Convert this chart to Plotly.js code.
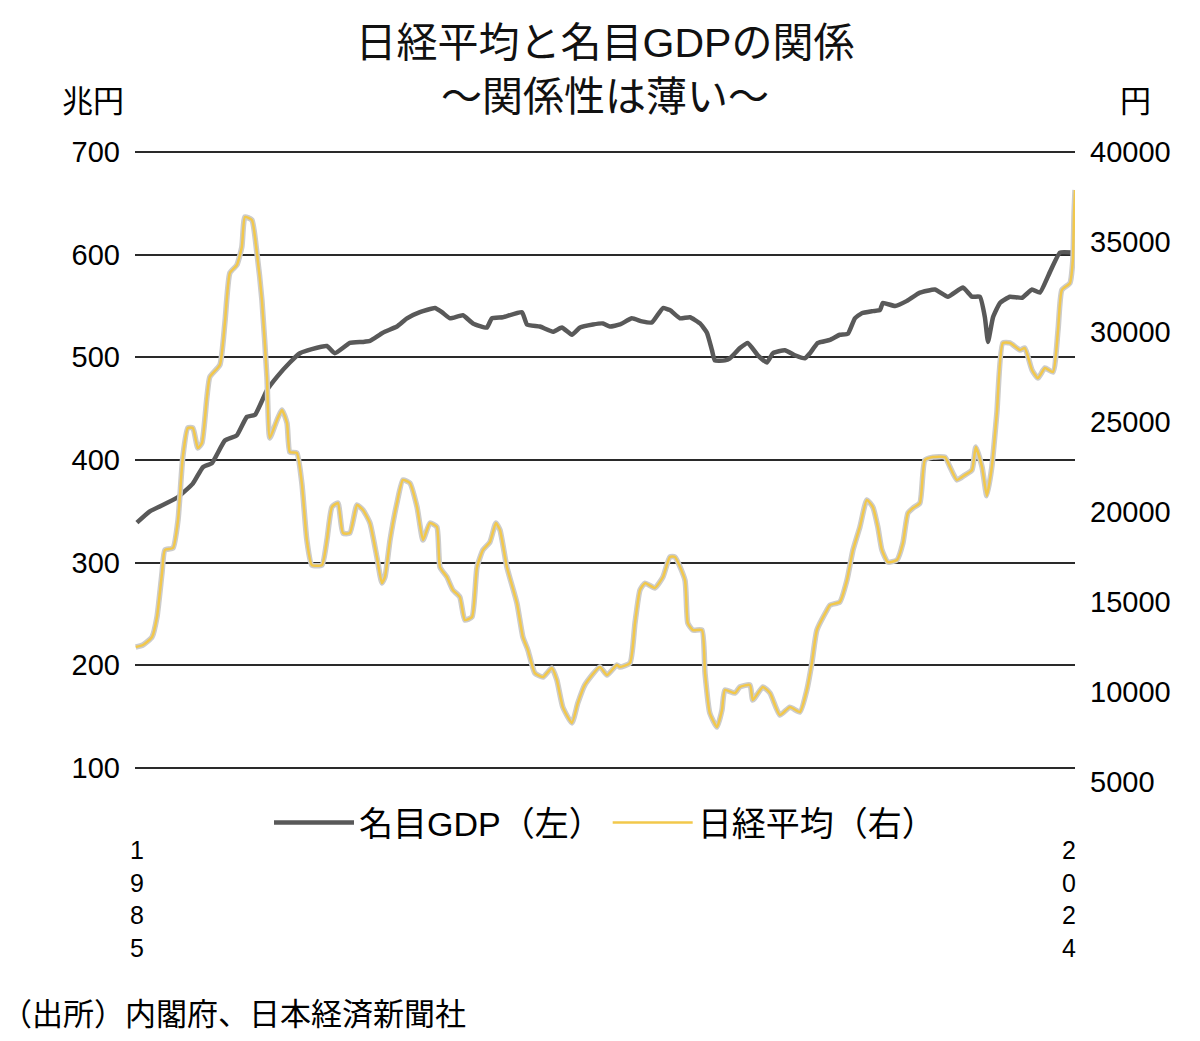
<!DOCTYPE html>
<html>
<head>
<meta charset="utf-8">
<script src="https://cdn.plot.ly/plotly-3.0.1.min.js"></script>
<style>
  html, body { margin: 0; padding: 0; background: #fff; }
  #plot { width: 1200px; height: 1041px; }
</style>
</head>
<body>
<div id="plot"></div>
<script>
// 名目GDP（兆円）
var gdpYears = [1985.00, 1985.54, 1986.67, 1987.34, 1987.76, 1988.14, 1988.68, 1989.18, 1989.60, 1989.94,
  1990.44, 1990.86, 1991.40, 1991.82, 1992.32, 1992.95, 1993.28, 1993.91, 1994.46, 1994.75,
  1995.29, 1995.88, 1996.30, 1996.84, 1997.47, 1997.76, 1998.10, 1998.64, 1999.06, 1999.64,
  1999.85, 2000.31, 2001.11, 2001.32, 2001.86, 2002.41, 2002.78, 2003.20, 2003.54, 2004.08,
  2004.50, 2004.79, 2005.21, 2005.71, 2006.13, 2006.55, 2007.01, 2007.30, 2007.72, 2008.14,
  2008.56, 2008.85, 2009.06, 2009.18, 2009.60, 2009.81, 2010.23, 2010.56, 2010.98, 2011.36,
  2011.61, 2012.11, 2012.53, 2012.95, 2013.16, 2013.49, 2014.00, 2014.41, 2014.75, 2015.04,
  2015.33, 2015.79, 2016.09, 2016.21, 2016.72, 2017.22, 2017.76, 2018.39, 2018.93, 2019.56,
  2019.94, 2020.27, 2020.48, 2020.61, 2020.82, 2021.11, 2021.53, 2022.03, 2022.45, 2022.78,
  2023.20, 2023.62, 2024.12];
var gdpValues = [339, 350, 363, 377, 393, 397, 419, 424, 442, 444,
  468, 481, 495, 504, 508, 511, 504, 514, 515, 516,
  524, 530, 538, 544, 548, 544, 538, 541, 533, 529,
  538, 539, 544, 532, 530, 525, 529, 522, 529, 532,
  533, 530, 532, 538, 535, 534, 548, 546, 538, 539,
  533, 524, 507, 497, 497, 499, 509, 514, 502, 495,
  504, 507, 502, 499, 504, 514, 517, 522, 523, 538,
  543, 545, 546, 553, 550, 555, 563, 566, 559, 568,
  559, 559, 539, 515, 539, 553, 559, 558, 566, 563,
  583, 602, 602];

// 日経平均（円）
var nikkeiYears = [1984.95, 1985.25, 1985.63, 1985.84, 1986.05, 1986.17, 1986.51, 1986.72, 1986.92, 1987.13,
  1987.34, 1987.55, 1987.72, 1987.93, 1988.05, 1988.47, 1988.68, 1988.89, 1989.18, 1989.39,
  1989.52, 1989.81, 1990.02, 1990.23, 1990.44, 1990.56, 1990.86, 1991.07, 1991.28, 1991.40,
  1991.69, 1991.90, 1992.11, 1992.32, 1992.74, 1992.95, 1993.16, 1993.41, 1993.62, 1993.91,
  1994.21, 1994.46, 1994.75, 1995.04, 1995.25, 1995.38, 1995.59, 1995.88, 1996.13, 1996.42,
  1996.72, 1996.97, 1997.26, 1997.55, 1997.68, 1997.97, 1998.22, 1998.51, 1998.72, 1999.02,
  1999.23, 1999.48, 1999.77, 2000.02, 2000.19, 2000.48, 2000.90, 2001.15, 2001.36, 2001.65,
  2001.99, 2002.36, 2002.57, 2002.82, 2003.20, 2003.45, 2003.74, 2004.37, 2004.67, 2005.08,
  2005.21, 2005.63, 2005.84, 2006.05, 2006.26, 2006.67, 2007.01, 2007.30, 2007.51, 2007.93,
  2008.05, 2008.26, 2008.64, 2008.77, 2008.97, 2009.27, 2009.48, 2009.60, 2010.02, 2010.23,
  2010.65, 2010.77, 2011.19, 2011.49, 2011.90, 2012.32, 2012.74, 2013.03, 2013.24, 2013.45,
  2013.87, 2014.00, 2014.41, 2014.71, 2014.96, 2015.25, 2015.54, 2015.79, 2016.00, 2016.17,
  2016.42, 2016.80, 2017.05, 2017.26, 2017.47, 2017.76, 2017.97, 2018.31, 2018.81, 2019.02,
  2019.31, 2019.64, 2019.94, 2020.10, 2020.36, 2020.56, 2020.77, 2020.98, 2021.23, 2021.53,
  2021.95, 2022.15, 2022.45, 2022.70, 2022.99, 2023.33, 2023.54, 2023.70, 2024.04, 2024.16,
  2024.21, 2024.25];
var nikkeiValues = [12500, 12610, 13050, 14170, 16610, 17890, 18000, 19550, 23050, 24670,
  24670, 23550, 23830, 26390, 27500, 28170, 30500, 33280, 33720, 34720,
  36390, 36220, 34390, 31780, 27500, 24110, 25110, 25670, 24940, 23330,
  23280, 21610, 18440, 17050, 17050, 18440, 20280, 20500, 18830, 18830,
  20390, 20110, 19390, 17500, 16050, 16390, 18440, 20500, 21780, 21610,
  20280, 18440, 19390, 19170, 16940, 16390, 15670, 15280, 14000, 14170,
  16940, 17890, 18330, 19390, 19000, 16940, 14940, 13050, 12330, 11050,
  10830, 11330, 10670, 9160, 8280, 9390, 10390, 11390, 10940, 11500,
  11390, 11610, 13830, 15670, 16050, 15780, 16390, 17500, 17500, 16220,
  13830, 13440, 13440, 11050, 8830, 8050, 9000, 10110, 9940, 10280,
  10390, 9550, 10280, 9940, 8720, 9160, 8890, 10110, 11610, 13440,
  14550, 14830, 15000, 16220, 17890, 19170, 20670, 20280, 19170, 17890,
  17220, 17330, 18280, 19940, 20220, 20500, 22890, 23050, 23050, 22500,
  21780, 22050, 22330, 23610, 22500, 20900, 22500, 25500, 29390, 29390,
  29000, 29110, 27890, 27440, 28000, 27780, 30110, 32330, 32720, 34000,
  36610, 37890];

var leftTicks = [100, 200, 300, 400, 500, 600, 700];
var rightTicks = [5000, 10000, 15000, 20000, 25000, 30000, 35000, 40000];
var yearTicks = [1985, 2024];
var yearLabels = ["1<br>9<br>8<br>5", "2<br>0<br>2<br>4"];

var fontFamily = '"Liberation Sans", Arial, "Noto Sans CJK JP", sans-serif';

var gdpTrace = {
  type: 'scatter', mode: 'lines', name: '名目GDP（左）',
  x: gdpYears, y: gdpValues, xaxis: 'x', yaxis: 'y',
  line: {color: '#595959', width: 4.5, shape: 'spline', smoothing: 0.4}
};
var nikkeiShadow = {
  type: 'scatter', mode: 'lines', name: 'shadow', showlegend: false, hoverinfo: 'skip',
  x: nikkeiYears, y: nikkeiValues, xaxis: 'x', yaxis: 'y2',
  line: {color: '#cccccc', width: 5.5, shape: 'spline', smoothing: 0.5}
};
var nikkeiTrace = {
  type: 'scatter', mode: 'lines', name: '日経平均（右）',
  x: nikkeiYears, y: nikkeiValues, xaxis: 'x', yaxis: 'y2',
  line: {color: '#F2C84B', width: 2.5, shape: 'spline', smoothing: 0.5}
};

// paper: y from 148 px (top) to 782 px (bottom), 634 px tall
var layout = {
  width: 1200, height: 1041,
  margin: {l: 135, r: 125, t: 148, b: 259},
  paper_bgcolor: '#fff', plot_bgcolor: 'rgba(0,0,0,0)',
  font: {family: fontFamily, color: '#000', size: 29},
  title: {
    text: '日経平均と名目GDPの関係<br>〜関係性は薄い〜',
    font: {family: fontFamily, size: 41, color: '#111'},
    x: 0.5, xref: 'paper', xanchor: 'center',
    y: 0.945, yref: 'container', yanchor: 'top'
  },
  xaxis: {
    range: [1984.92, 2024.25],
    tickvals: yearTicks, ticktext: yearLabels,
    showgrid: false, zeroline: false, showline: false, ticks: '',
    tickfont: {size: 25, color: '#000'},
    ticklabelstandoff: 62,
    anchor: 'y'
  },
  yaxis: {
    domain: [0.01722, 0.99855],
    range: [97, 703], tickvals: leftTicks,
    showgrid: true, gridcolor: '#2a2a2a', gridwidth: 2,
    zeroline: false, showline: false, ticks: '',
    ticklabelstandoff: 14,
    tickfont: {size: 29, color: '#000'},
    anchor: 'x'
  },
  yaxis2: {
    domain: [0, 0.99369],
    range: [5000, 40000], tickvals: rightTicks, tickformat: 'd',
    side: 'right', anchor: 'x',
    showgrid: false, zeroline: false, showline: false, ticks: '',
    ticklabelstandoff: 14,
    tickfont: {size: 29, color: '#000'}
  },
  legend: {
    orientation: 'h', x: 0.5, xanchor: 'center', y: -0.0647, yanchor: 'middle',
    font: {size: 34, color: '#000'}, itemwidth: 80, bgcolor: 'rgba(0,0,0,0)'
  },
  annotations: [
    {text: '兆円', xref: 'paper', yref: 'paper', x: -0.01, y: 1.0726,
     xanchor: 'right', yanchor: 'middle', showarrow: false, font: {size: 31}},
    {text: '円', xref: 'paper', yref: 'paper', x: 1.064, y: 1.0726,
     xanchor: 'center', yanchor: 'middle', showarrow: false, font: {size: 31}},
    {text: '（出所）内閣府、日本経済新聞社', xref: 'paper', yref: 'paper', x: -0.145, y: -0.3675,
     xanchor: 'left', yanchor: 'middle', showarrow: false, font: {size: 31}}
  ],
  showlegend: true
};

Plotly.newPlot('plot', [gdpTrace, nikkeiShadow, nikkeiTrace], layout, {staticPlot: true});
</script>
</body>
</html>
